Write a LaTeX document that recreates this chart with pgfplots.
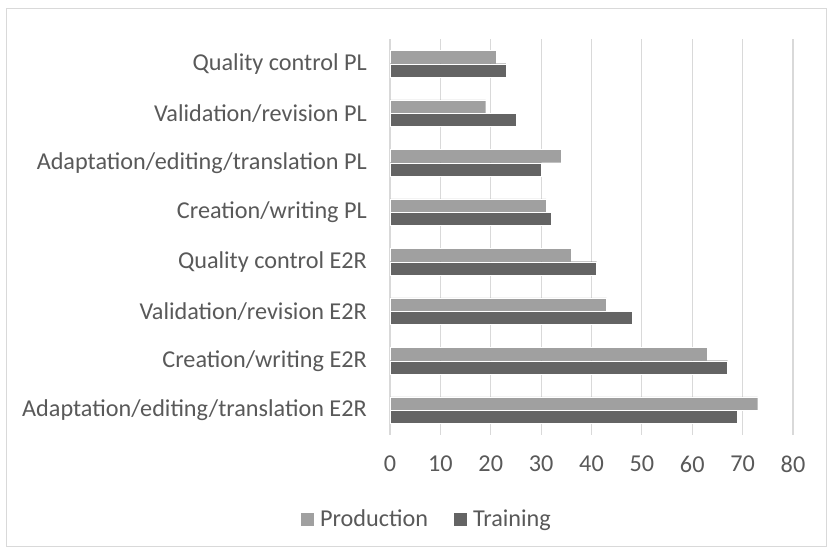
\documentclass[border=0pt]{standalone}
\usepackage{pgfplots}
\pgfplotsset{compat=1.18}
\usepackage{fontspec}
\setmainfont{Carlito}
\definecolor{prod}{HTML}{A0A0A0}
\definecolor{train}{HTML}{646464}
\definecolor{txt}{HTML}{595959}
\definecolor{gridc}{HTML}{D9D9D9}
\begin{document}
\begin{tikzpicture}[x=1bp,y=1bp]
\fill[white] (0,0) rectangle (830,553);
\draw[color=gridc, line width=1bp] (6.5,6.5) rectangle (826,544);
\begin{axis}[
  at={(390bp,118bp)}, anchor=south west,
  scale only axis, width=403bp, height=396bp,
  xbar, bar width=13.3bp,
  xmin=0, xmax=80, ymin=-0.5, ymax=7.5,
  xtick={0,10,...,80},
  ytick={0,...,7},
  yticklabels={Adaptation/editing/translation E2R, Creation/writing E2R, Validation/revision E2R, Quality control E2R, Creation/writing PL, Adaptation/editing/translation PL, Validation/revision PL, Quality control PL},
  xmajorgrids, grid style={color=gridc, line width=1.2bp},
  axis line style={draw=none},
  major tick length=0,
  tick label style={font=\fontsize{24.3}{29}\selectfont, text=txt},
  /pgf/number format/assume math mode=true,
  yticklabel style={inner sep=0pt, anchor=east, xshift=-23bp},
  xticklabel style={inner sep=0pt, anchor=north, yshift=-21bp},
  legend style={at={(0.0906,-0.212)}, anchor=center, draw=none, fill=none,
    legend columns=2, font=\fontsize{24.3}{29}\selectfont, text=txt,
    /tikz/every even column/.append style={column sep=23bp},
    legend cell align=left, inner sep=0pt},
  legend image code/.code={\fill[#1] (0bp,-7bp) rectangle (14bp,7bp);},
]
\addplot[fill=prod, draw=white, line width=0.4bp, bar shift=6.65bp] coordinates {
  (73,0) (63,1) (43,2) (36,3) (31,4) (34,5) (19,6) (21,7)};
\addlegendentry{\hspace{3.5bp}Production}
\addplot[fill=train, draw=white, line width=0.4bp, bar shift=-6.65bp] coordinates {
  (69,0) (67,1) (48,2) (41,3) (32,4) (30,5) (25,6) (23,7)};
\addlegendentry{\hspace{3.5bp}Training}
\end{axis}
\end{tikzpicture}
\end{document}
